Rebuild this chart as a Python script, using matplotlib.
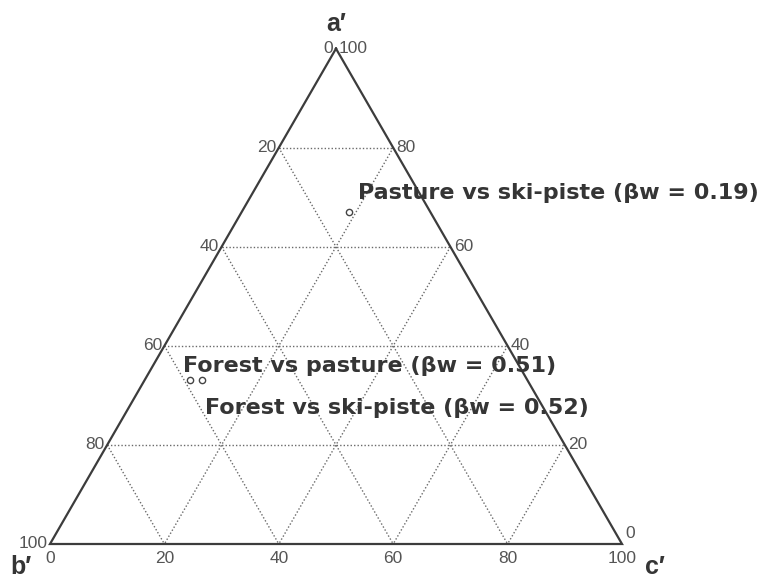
import numpy as np
import matplotlib
matplotlib.use('Agg')
import matplotlib.pyplot as plt

# ternary data: (a', b', c') fractions
pair_names = ['Pasture vs ski-piste', 'Forest vs pasture', 'Forest vs ski-piste']
beta_w = [0.19, 0.51, 0.52]
a_vals = [0.670, 0.331, 0.331]
b_vals = [0.142, 0.590, 0.569]
c_vals = [0.188, 0.079, 0.100]

grid_vals = [0.2, 0.4, 0.6, 0.8]
tick_vals = [0, 20, 40, 60, 80, 100]

H = np.sqrt(3) / 2
SCALE = 572.0   # pixels per unit side
X0, Y0 = 50.0, 544.0   # pixel position of b' vertex
W, HGT = 764, 581


def tern(a, b, c):
    s = a + b + c
    a, c = a / s, c / s
    return c + a / 2, a * H


def px(x, y):
    # pixel position (from top-left) -> data coords
    return (x - X0) / SCALE, (Y0 - y) / SCALE


fig = plt.figure(figsize=(W / 100, HGT / 100), dpi=100)
ax = fig.add_axes([0, 0, 1, 1])
ax.set_xlim(-X0 / SCALE, (W - X0) / SCALE)
ax.set_ylim(-(HGT - Y0) / SCALE, Y0 / SCALE)
ax.axis('off')

edge_col = '#3c3c3c'
grid_col = '#6a6a6a'
txt_col = '#353535'
tick_col = '#555555'

# grid lines
for v in grid_vals:
    # a' constant
    p1 = tern(v, 1 - v, 0)
    p2 = tern(v, 0, 1 - v)
    ax.plot([p1[0], p2[0]], [p1[1], p2[1]], ls=(0, (1, 1.5)), color=grid_col, lw=1.0)
    # b' constant
    p1 = tern(1 - v, v, 0)
    p2 = tern(0, v, 1 - v)
    ax.plot([p1[0], p2[0]], [p1[1], p2[1]], ls=(0, (1, 1.5)), color=grid_col, lw=1.0)
    # c' constant
    p1 = tern(1 - v, 0, v)
    p2 = tern(0, 1 - v, v)
    ax.plot([p1[0], p2[0]], [p1[1], p2[1]], ls=(0, (1, 1.5)), color=grid_col, lw=1.0)

# triangle outline
corners = [tern(1, 0, 0), tern(0, 1, 0), tern(0, 0, 1), tern(1, 0, 0)]
ax.plot([p[0] for p in corners], [p[1] for p in corners], color=edge_col, lw=1.6,
        solid_joinstyle='miter')

# points
xs, ys = zip(*[tern(a, b, c) for a, b, c in zip(a_vals, b_vals, c_vals)])
ax.plot(xs, ys, ls='', marker='o', ms=4.5, mfc='white', mec='#444444', mew=1.0)

tick_font = dict(family=['Liberation Sans', 'DejaVu Sans'], fontsize=12.5, color=tick_col)

# left edge labels (0 at top, 100 at b')
for t in tick_vals:
    if t == 0:
        x, y = tern(1, 0, 0)
        ax.text(x - 0.006, y, '0', ha='right', va='center', **tick_font)
        continue
    x, y = tern(1 - t / 100, t / 100, 0)
    ax.text(x - 0.004, y, str(t), ha='right', va='center', **tick_font)

# right edge labels (100 at top, 0 at c')
for t in tick_vals:
    if t == 100:
        x, y = tern(1, 0, 0)
        ax.text(x + 0.005, y, '100', ha='left', va='center', **tick_font)
        continue
    if t == 0:
        x, y = tern(0, 0, 1)
        ax.text(x + 0.006, y + 0.005, '0', ha='left', va='bottom', **tick_font)
        continue
    x, y = tern(t / 100, 0, 1 - t / 100)
    ax.text(x + 0.006, y, str(t), ha='left', va='center', **tick_font)

# bottom labels
for t in tick_vals:
    x, y = tern(0, 1 - t / 100, t / 100)
    ax.text(x, y - 0.012, str(t), ha='center', va='top', **tick_font)

# vertex labels
vfont = dict(family=['Liberation Sans', 'DejaVu Sans'], fontsize=18, fontweight='bold',
             color=txt_col)
ax.text(*px(336, 31), 'a\u2032', ha='center', va='baseline', **vfont)
ax.text(*px(10, 574), 'b\u2032', ha='left', va='baseline', **vfont)
ax.text(*px(645, 574), 'c\u2032', ha='left', va='baseline', **vfont)

# annotations
afont = dict(family=['DejaVu Sans'], fontsize=16, fontweight='bold', color=txt_col)
label_px = [(358, 199), (183, 372), (205, 414)]
for name, bw, (lx, ly) in zip(pair_names, beta_w, label_px):
    ax.text(*px(lx, ly), f'{name} (\u03b2w = {bw:.2f})', ha='left', va='baseline', **afont)

fig.savefig('out.png', dpi=100)
